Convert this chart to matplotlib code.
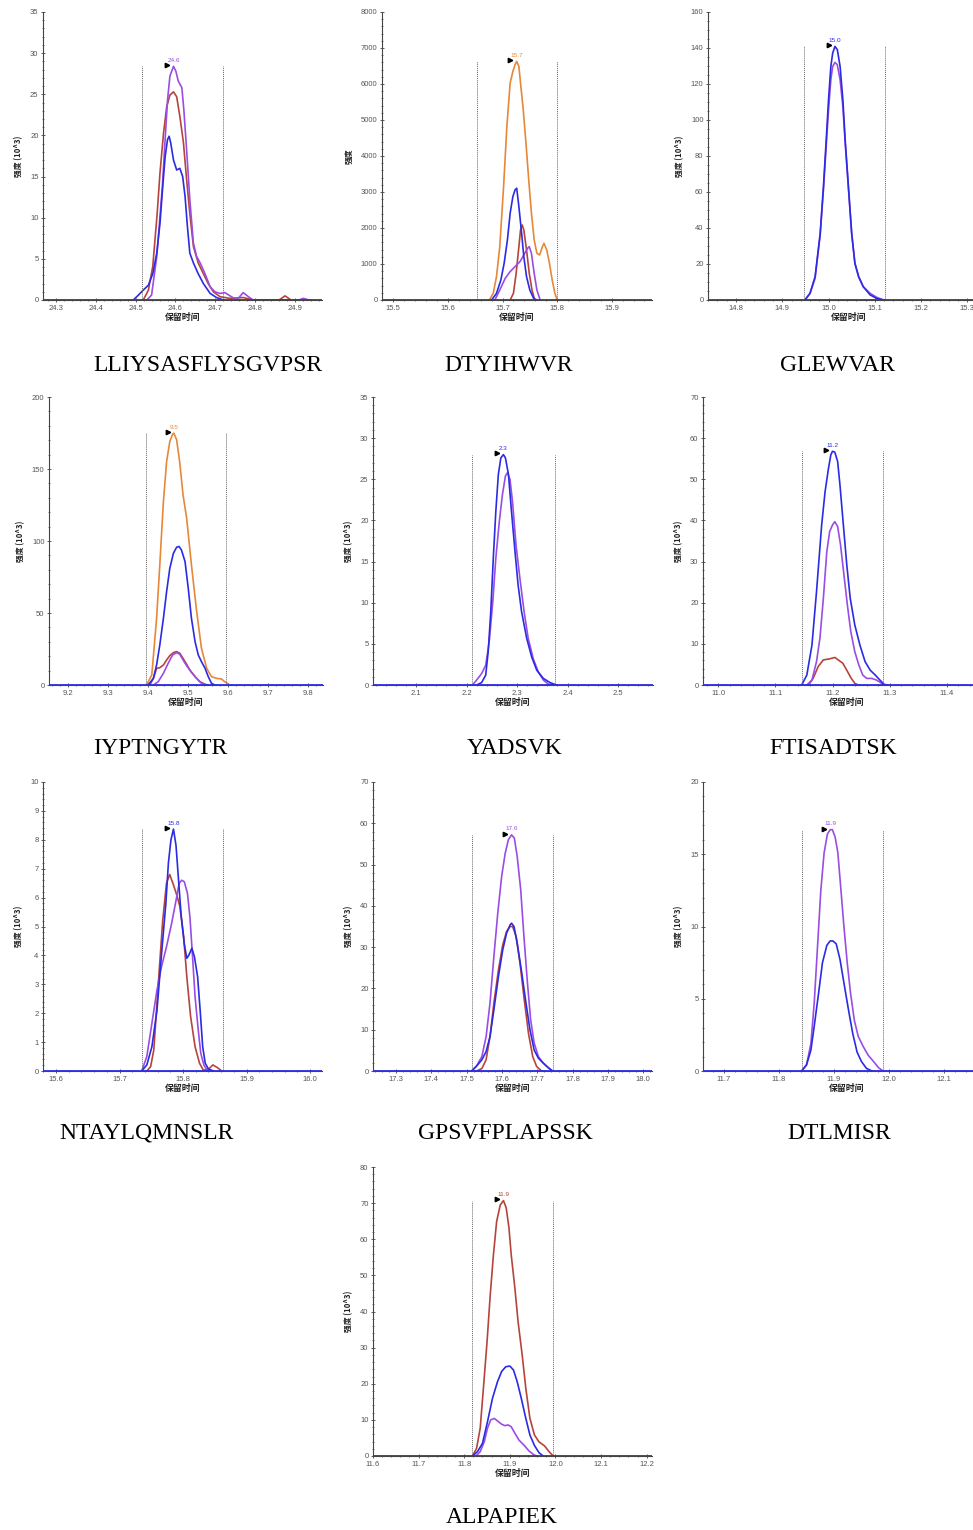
import matplotlib
matplotlib.use("Agg")
import matplotlib.pyplot as plt
from matplotlib.ticker import MultipleLocator, AutoMinorLocator, FormatStrFormatter
from matplotlib.transforms import offset_copy

# ---- data (retention time in min, intensity) ----
peptides = ["LLIYSASFLYSGVPSR", "DTYIHWVR", "GLEWVAR",
            "IYPTNGYTR", "YADSVK", "FTISADTSK",
            "NTAYLQMNSLR", "GPSVFPLAPSSK", "DTLMISR",
            "ALPAPIEK"]
peak_labels = ["24.6", "15.7", "15.0", "9.5", "2.3", "11.2", "15.8", "17.6", "11.9", "11.9"]
peak_trace = ["purple", "orange", "blue", "orange", "blue", "blue", "blue", "purple", "purple", "red"]
bounds = [(24.517, 24.720), (15.654, 15.799), (14.948, 15.122), (9.3945, 9.5965),
          (2.2114, 2.376), (11.146, 11.288), (15.736, 15.8625), (17.514, 17.7434),
          (11.841, 11.9885), (11.818, 11.9949)]
ymax = [35, 8000, 160, 200, 35, 70, 10, 70, 20, 80]
ystep = [5, 1000, 20, 50, 5, 10, 1, 10, 5, 10]
ylabels = ["强度 (10^3)", "强度", "强度 (10^3)", "强度 (10^3)", "强度 (10^3)",
           "强度 (10^3)", "强度 (10^3)", "强度 (10^3)", "强度 (10^3)", "强度 (10^3)"]

# LLIYSASFLYSGVPSR
p1_red_x = [24.519, 24.532, 24.543, 24.554, 24.561, 24.570, 24.578, 24.586, 24.595, 24.603, 24.611,
            24.620, 24.628, 24.636, 24.645, 24.657, 24.670, 24.682, 24.695, 24.712, 24.737, 24.770,
            24.795, 24.860, 24.875, 24.890]
p1_red_y = [0, 1.2, 4.1, 10.5, 15.4, 20.3, 23.5, 24.9, 25.3, 24.7, 22.3, 19.1, 14.6, 10.5, 6.5,
            4.5, 3.2, 2.0, 1.0, 0.4, 0.2, 0.3, 0, 0, 0.5, 0]
p1_purple_x = [24.528, 24.540, 24.553, 24.559, 24.567, 24.574, 24.580, 24.586, 24.595, 24.601,
               24.607, 24.616, 24.621, 24.628, 24.636, 24.645, 24.653, 24.662, 24.674, 24.687,
               24.699, 24.712, 24.724, 24.737, 24.754, 24.770, 24.783, 24.795, 24.910, 24.921, 24.935]
p1_purple_y = [0, 0.6, 5.3, 8.9, 13.8, 19.5, 24.3, 27.2, 28.4, 27.8, 26.6, 25.8, 23.1, 18.2, 12.2,
               6.9, 5.3, 4.5, 3.2, 1.6, 1.0, 0.8, 0.9, 0.5, 0, 0.9, 0.4, 0, 0, 0.2, 0]
p1_blue_x = [24.494, 24.507, 24.519, 24.532, 24.543, 24.553, 24.561, 24.568, 24.574, 24.580, 24.584,
             24.588, 24.595, 24.603, 24.611, 24.618, 24.624, 24.630, 24.636, 24.645, 24.657,
             24.670, 24.687, 24.703, 24.720]
p1_blue_y = [0, 0.6, 1.2, 1.8, 3.2, 5.7, 9.3, 13.8, 17.4, 19.5, 19.9, 19.1, 17.0, 15.8, 16.0, 15.0,
             12.6, 8.9, 5.7, 4.5, 3.2, 2.0, 0.8, 0.3, 0]

# DTYIHWVR
p2_orange_x = [15.676, 15.683, 15.689, 15.695, 15.702, 15.708, 15.714, 15.719, 15.723, 15.726,
               15.730, 15.733, 15.738, 15.743, 15.748, 15.753, 15.758, 15.763, 15.768, 15.772,
               15.776, 15.781, 15.786, 15.791, 15.796, 15.800]
p2_orange_y = [0, 185, 649, 1483, 3152, 4820, 6026, 6350, 6535, 6628, 6489, 6026, 5284, 4357, 3337,
               2410, 1669, 1298, 1251, 1437, 1576, 1391, 1020, 556, 185, 0]
p2_red_x = [15.714, 15.720, 15.725, 15.730, 15.733, 15.736, 15.739, 15.744, 15.749, 15.754, 15.759]
p2_red_y = [0, 185, 742, 1483, 1947, 2086, 1947, 1391, 742, 278, 0]
p2_purple_x = [15.686, 15.695, 15.705, 15.714, 15.723, 15.732, 15.739, 15.746, 15.749, 15.753,
               15.758, 15.763, 15.769]
p2_purple_y = [0, 278, 603, 788, 927, 1066, 1251, 1437, 1483, 1298, 742, 278, 0]
p2_blue_x = [15.680, 15.689, 15.697, 15.703, 15.709, 15.714, 15.719, 15.723, 15.726, 15.730,
             15.735, 15.739, 15.744, 15.750, 15.757, 15.763]
p2_blue_y = [0, 185, 556, 1020, 1669, 2410, 2874, 3059, 3105, 2596, 1854, 1205, 649, 278, 46, 0]

# GLEWVAR
p3_x = [14.949, 14.960, 14.971, 14.982, 14.989, 14.995, 15.000, 15.005, 15.009, 15.014, 15.019,
        15.025, 15.031, 15.036, 15.043, 15.050, 15.057, 15.065, 15.075, 15.090, 15.104, 15.119]
p3_purple_y = [0, 3.7, 12.1, 36.2, 61.2, 85.3, 105.7, 122.4, 129.8, 132.0, 130.7, 122.4, 107.5,
               87.1, 62.1, 37.1, 20.4, 13.0, 7.4, 3.7, 1.5, 0]
p3_blue_y = [0, 3.7, 13.0, 37.1, 63.0, 89.0, 111.2, 129.8, 137.2, 140.9, 139.1, 129.8, 111.2,
             89.0, 63.0, 37.1, 20.4, 13.0, 7.4, 2.8, 0.9, 0]

# IYPTNGYTR
p4_orange_x = [9.397, 9.410, 9.422, 9.430, 9.439, 9.447, 9.455, 9.462, 9.465, 9.472, 9.480, 9.488,
               9.497, 9.509, 9.522, 9.534, 9.547, 9.559, 9.572, 9.584, 9.592, 9.605]
p4_orange_y = [0, 7.0, 46.3, 83.4, 127.4, 155.2, 169.1, 174.2, 174.9, 170.3, 154.1, 132.1, 115.8,
               83.4, 51.0, 25.5, 11.6, 5.8, 4.6, 4.2, 2.3, 0]
p4_red_x = [9.405, 9.414, 9.422, 9.430, 9.439, 9.447, 9.455, 9.464, 9.472, 9.480, 9.488, 9.497,
            9.505, 9.518, 9.530, 9.543, 9.551]
p4_red_y = [0, 4.6, 11.6, 12.0, 13.9, 17.4, 20.4, 22.5, 23.2, 22.0, 18.5, 14.4, 10.4, 5.8, 2.3, 0.5, 0]
p4_purple_x = [9.414, 9.426, 9.439, 9.451, 9.462, 9.472, 9.480, 9.488, 9.497, 9.509, 9.522, 9.534, 9.547]
p4_purple_y = [0, 2.3, 8.1, 15.1, 20.9, 22.5, 21.3, 17.4, 13.4, 8.8, 4.6, 1.2, 0]
p4_blue_x = [9.401, 9.414, 9.422, 9.430, 9.439, 9.447, 9.455, 9.464, 9.472, 9.478, 9.484, 9.493,
             9.501, 9.509, 9.518, 9.526, 9.534, 9.543, 9.551, 9.559, 9.567]
p4_blue_y = [0, 4.6, 13.9, 27.8, 46.3, 64.9, 81.1, 91.5, 95.7, 96.2, 93.8, 85.7, 67.2, 46.3, 30.1,
             20.9, 16.2, 11.6, 5.8, 1.2, 0]

# YADSVK
p5_purple_x = [2.212, 2.220, 2.230, 2.238, 2.245, 2.252, 2.258, 2.265, 2.271, 2.277, 2.281, 2.286,
               2.291, 2.298, 2.306, 2.314, 2.322, 2.332, 2.342, 2.352, 2.362, 2.372]
p5_purple_y = [0, 0.6, 1.4, 2.4, 5.3, 10.1, 15.4, 19.9, 23.1, 25.4, 25.8, 25.0, 22.3, 17.0, 12.8,
               8.9, 5.7, 3.2, 1.6, 0.6, 0.1, 0]
p5_blue_x = [2.220, 2.230, 2.238, 2.243, 2.248, 2.253, 2.258, 2.263, 2.268, 2.273, 2.277, 2.283,
             2.289, 2.296, 2.302, 2.309, 2.319, 2.329, 2.339, 2.352, 2.365, 2.378]
p5_blue_y = [0, 0.3, 1.2, 4.1, 8.9, 15.4, 21.1, 25.6, 27.6, 28.0, 27.6, 25.6, 21.1, 16.2, 12.2,
             8.9, 5.7, 3.4, 1.8, 0.8, 0.3, 0]

# FTISADTSK
p6_red_x = [11.158, 11.166, 11.175, 11.184, 11.193, 11.199, 11.204, 11.210, 11.218, 11.225,
            11.232, 11.239, 11.245]
p6_red_y = [0, 1.6, 4.5, 6.1, 6.3, 6.5, 6.7, 6.1, 5.3, 3.6, 1.8, 0.4, 0]
p6_purple_x = [11.155, 11.164, 11.172, 11.178, 11.184, 11.190, 11.195, 11.200, 11.204, 11.209,
               11.214, 11.220, 11.226, 11.232, 11.239, 11.246, 11.253, 11.260, 11.269, 11.277,
               11.284, 11.290]
p6_purple_y = [0, 1.2, 5.7, 11.4, 21.1, 32.4, 37.3, 38.9, 39.7, 38.5, 34.1, 26.8, 19.5, 13.0, 8.1,
               4.9, 2.4, 1.6, 1.6, 1.2, 0.6, 0]
p6_blue_x = [11.146, 11.155, 11.164, 11.172, 11.181, 11.187, 11.193, 11.197, 11.200, 11.204,
             11.209, 11.213, 11.219, 11.225, 11.231, 11.239, 11.248, 11.257, 11.266, 11.275,
             11.283, 11.290, 11.295]
p6_blue_y = [0, 2.4, 9.7, 22.7, 38.9, 47.0, 52.7, 55.9, 56.8, 56.6, 54.3, 48.7, 38.9, 29.2, 21.1,
             14.6, 9.7, 5.7, 3.6, 2.4, 1.2, 0.2, 0]

# NTAYLQMNSLR
p7_red_x = [15.743, 15.749, 15.754, 15.761, 15.768, 15.774, 15.779, 15.784, 15.790, 15.795,
            15.801, 15.806, 15.812, 15.819, 15.826, 15.832, 15.840, 15.847, 15.854, 15.861]
p7_red_y = [0, 0.15, 0.73, 3.0, 5.2, 6.5, 6.8, 6.5, 6.1, 5.7, 4.65, 3.26, 1.88, 0.84, 0.27, 0.03,
            0.06, 0.21, 0.12, 0]
p7_purple_x = [15.735, 15.743, 15.751, 15.759, 15.766, 15.774, 15.782, 15.789, 15.794, 15.798,
               15.802, 15.807, 15.811, 15.815, 15.819, 15.824, 15.828, 15.833, 15.838, 15.843]
p7_purple_y = [0, 0.5, 1.65, 2.8, 3.6, 4.3, 5.1, 5.9, 6.5, 6.6, 6.55, 6.15, 5.3, 3.96, 2.57, 1.42,
               0.61, 0.2, 0.03, 0]
p7_blue_x = [15.735, 15.743, 15.751, 15.759, 15.766, 15.773, 15.777, 15.781, 15.785, 15.789,
             15.793, 15.797, 15.802, 15.806, 15.809, 15.814, 15.818, 15.823, 15.827, 15.831,
             15.835, 15.840, 15.848]
p7_blue_y = [0, 0.21, 0.84, 2.1, 4.0, 5.8, 7.2, 8.0, 8.37, 7.8, 6.6, 5.4, 4.4, 3.9, 4.0, 4.25,
             3.95, 3.26, 2.1, 0.84, 0.27, 0.07, 0]

# GPSVFPLAPSSK
p8_red_x = [17.528, 17.543, 17.555, 17.566, 17.577, 17.590, 17.602, 17.613, 17.623, 17.630,
            17.640, 17.651, 17.662, 17.675, 17.687, 17.698, 17.712]
p8_red_y = [0, 0.6, 2.7, 8.3, 16.4, 24.5, 30.5, 33.8, 35.0, 35.0, 32.6, 26.1, 18.0, 9.1, 3.5, 1.1, 0]
p8_purple_x = [17.514, 17.528, 17.543, 17.555, 17.566, 17.577, 17.588, 17.599, 17.609, 17.618,
               17.627, 17.635, 17.643, 17.653, 17.662, 17.672, 17.681, 17.691, 17.703, 17.717,
               17.731, 17.743]
p8_purple_y = [0, 1.2, 3.5, 8.3, 16.4, 27.7, 38.2, 47.1, 52.7, 56.0, 57.2, 56.4, 52.0, 43.9, 32.7,
               21.4, 12.5, 6.8, 3.5, 1.9, 0.8, 0]
p8_blue_x = [17.514, 17.528, 17.543, 17.555, 17.566, 17.577, 17.590, 17.602, 17.613, 17.623,
             17.627, 17.634, 17.643, 17.656, 17.668, 17.679, 17.691, 17.703, 17.717, 17.731, 17.743]
p8_blue_y = [0, 1.2, 2.7, 4.7, 8.3, 14.8, 22.9, 29.3, 33.4, 35.4, 35.8, 35.0, 31.0, 23.7, 16.4,
             10.1, 5.1, 3.1, 1.9, 0.8, 0]

# DTLMISR
p9_purple_x = [11.841, 11.850, 11.858, 11.864, 11.870, 11.876, 11.882, 11.888, 11.893, 11.897,
               11.902, 11.907, 11.912, 11.918, 11.924, 11.930, 11.937, 11.944, 11.953, 11.962,
               11.972, 11.981, 11.989]
p9_purple_y = [0, 0.42, 1.9, 4.7, 8.6, 12.5, 15.1, 16.4, 16.7, 16.7, 16.2, 15.1, 12.8, 10.0, 7.5,
               5.4, 3.5, 2.4, 1.7, 1.1, 0.65, 0.23, 0]
p9_blue_x = [11.841, 11.850, 11.858, 11.864, 11.872, 11.879, 11.887, 11.893, 11.898, 11.904,
             11.911, 11.918, 11.926, 11.934, 11.942, 11.950, 11.959, 11.969]
p9_blue_y = [0, 0.42, 1.45, 3.1, 5.4, 7.5, 8.7, 9.0, 9.0, 8.8, 7.7, 6.1, 4.3, 2.6, 1.3, 0.65, 0.18, 0]

# ALPAPIEK
p10_red_x = [11.818, 11.827, 11.835, 11.842, 11.850, 11.857, 11.864, 11.871, 11.879, 11.886,
             11.892, 11.898, 11.903, 11.911, 11.918, 11.927, 11.935, 11.944, 11.954, 11.964,
             11.976, 11.986, 11.995]
p10_red_y = [0, 2.1, 7.7, 18.7, 31.6, 44.6, 55.7, 64.9, 69.5, 70.7, 68.7, 63.2, 55.7, 46.5, 37.2,
             28.0, 18.7, 10.4, 5.8, 3.9, 2.8, 1.2, 0]
p10_purple_x = [11.826, 11.835, 11.844, 11.851, 11.858, 11.866, 11.873, 11.882, 11.889, 11.896,
                11.903, 11.911, 11.920, 11.931, 11.942, 11.953, 11.960]
p10_purple_y = [0, 1.2, 4.0, 7.7, 10.0, 10.4, 9.7, 8.8, 8.4, 8.6, 8.1, 6.3, 4.4, 3.0, 1.4, 0.3, 0]
p10_blue_x = [11.818, 11.829, 11.840, 11.851, 11.862, 11.873, 11.882, 11.891, 11.900, 11.908,
              11.916, 11.925, 11.935, 11.944, 11.954, 11.964, 11.973]
p10_blue_y = [0, 1.2, 3.5, 9.5, 16.0, 20.6, 23.4, 24.7, 24.9, 23.8, 20.6, 16.0, 10.4, 5.8, 2.9, 0.9, 0]

traces = [
    [("red", p1_red_x, p1_red_y), ("purple", p1_purple_x, p1_purple_y), ("blue", p1_blue_x, p1_blue_y)],
    [("orange", p2_orange_x, p2_orange_y), ("red", p2_red_x, p2_red_y),
     ("purple", p2_purple_x, p2_purple_y), ("blue", p2_blue_x, p2_blue_y)],
    [("purple", p3_x, p3_purple_y), ("blue", p3_x, p3_blue_y)],
    [("orange", p4_orange_x, p4_orange_y), ("red", p4_red_x, p4_red_y),
     ("purple", p4_purple_x, p4_purple_y), ("blue", p4_blue_x, p4_blue_y)],
    [("purple", p5_purple_x, p5_purple_y), ("blue", p5_blue_x, p5_blue_y)],
    [("red", p6_red_x, p6_red_y), ("purple", p6_purple_x, p6_purple_y), ("blue", p6_blue_x, p6_blue_y)],
    [("red", p7_red_x, p7_red_y), ("purple", p7_purple_x, p7_purple_y), ("blue", p7_blue_x, p7_blue_y)],
    [("red", p8_red_x, p8_red_y), ("purple", p8_purple_x, p8_purple_y), ("blue", p8_blue_x, p8_blue_y)],
    [("purple", p9_purple_x, p9_purple_y), ("blue", p9_blue_x, p9_blue_y)],
    [("red", p10_red_x, p10_red_y), ("purple", p10_purple_x, p10_purple_y), ("blue", p10_blue_x, p10_blue_y)],
]

# ---- layout (pixel boxes and x-limits of each panel) ----
W, H = 973, 1530
boxes = [(43, 12, 322, 300), (382, 12, 652, 300), (708, 12, 990, 300),
         (49, 397, 323, 685), (373, 397, 653, 685), (703, 397, 990, 685),
         (43, 782, 322, 1071), (373, 782, 652, 1071), (703, 782, 990, 1071),
         (373, 1167, 652, 1456)]
xlims = [(24.2674, 24.9678), (15.4793, 15.9738), (14.7395, 15.349),
         (9.1534, 9.8374), (2.015, 2.569), (10.9732, 11.4758),
         (15.5795, 16.0189), (17.2349, 18.0246), (11.6618, 12.1836),
         (11.6, 12.2116)]
name_pos = [(208, 371), (509, 371), (837, 371),
            (160, 754), (515, 754), (833, 754),
            (147, 1139), (505, 1139), (839, 1139),
            (502, 1523)]
colors = {"blue": "#2b2be3", "purple": "#9a4de4", "red": "#b5443c", "orange": "#e5883a"}
cjk = ["Noto Sans CJK SC", "DejaVu Sans"]

fig = plt.figure(figsize=(W / 100, H / 100), dpi=100)

for i in range(10):
    l, t, r, b = boxes[i]
    ax = fig.add_axes([l / W, 1 - b / H, (r - l) / W, (b - t) / H])
    ax.set_xlim(*xlims[i])
    ax.set_ylim(0, ymax[i])

    apex = None
    for key, xs, ys in traces[i]:
        ax.plot(xs, ys, color=colors[key], lw=1.2, solid_joinstyle="round")
        if key == peak_trace[i]:
            k = max(range(len(ys)), key=lambda j: ys[j])
            apex = (xs[k], ys[k])
    ax.axhline(0, color=colors["blue"], lw=1.3, zorder=3)

    for bx in bounds[i]:
        ax.vlines(bx, 0, apex[1], colors="#666666", linestyles=(0, (1, 1)), lw=0.7)

    tri = offset_copy(ax.transData, fig=fig, x=-4.5, y=0.8, units="points")
    ax.plot(apex[0], apex[1], marker=">", color="black", ms=3.2, transform=tri, clip_on=False)
    ax.annotate(peak_labels[i], xy=apex, xytext=(0, 2.5), textcoords="offset points",
                ha="center", va="bottom", fontsize=4.6, color=colors[peak_trace[i]],
                family="Liberation Sans")

    for side in ("top", "right"):
        ax.spines[side].set_visible(False)
    for side in ("left", "bottom"):
        ax.spines[side].set_color("#444444")
        ax.spines[side].set_linewidth(0.8)

    ax.xaxis.set_major_locator(MultipleLocator(0.1))
    ax.xaxis.set_major_formatter(FormatStrFormatter("%.1f"))
    ax.xaxis.set_minor_locator(AutoMinorLocator(5))
    ax.yaxis.set_major_locator(MultipleLocator(ystep[i]))
    ax.yaxis.set_minor_locator(AutoMinorLocator(4 if ystep[i] == 20 else 5))
    ax.tick_params(which="major", direction="inout", length=3.5, width=0.6, color="#444444",
                   labelsize=5.5, labelcolor="#555555", pad=1.5)
    ax.tick_params(which="minor", direction="inout", length=2, width=0.5, color="#444444")
    for lab in ax.get_xticklabels() + ax.get_yticklabels():
        lab.set_family("Liberation Sans")

    ax.set_ylabel(ylabels[i], family=cjk, fontsize=5.6, fontweight="bold", color="#222222",
                  labelpad=5)
    ax.set_xlabel("保留时间", family=cjk, fontsize=6.4, fontweight="bold", color="#222222",
                  labelpad=1)

    nx, ny = name_pos[i]
    fig.text(nx / W, 1 - ny / H, peptides[i], ha="center", va="baseline",
             family="Liberation Serif", fontsize=17, color="black")

fig.savefig("out.png", dpi=100)
